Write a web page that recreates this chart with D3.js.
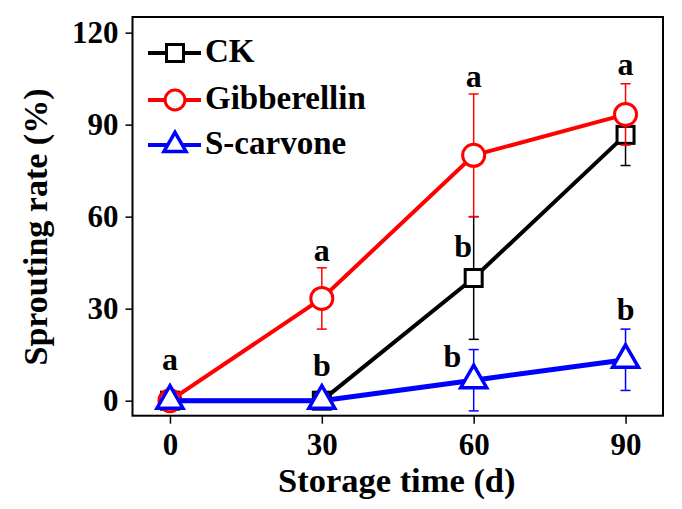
<!DOCTYPE html>
<html>
<head>
<meta charset="utf-8">
<script src="https://cdn.jsdelivr.net/npm/d3@7"></script>
<style>
  html, body { margin: 0; padding: 0; background: #fff; }
  svg text { font-family: "Liberation Serif", "Times New Roman", serif; font-weight: bold; fill: #000; }
</style>
</head>
<body>
<svg id="chart" width="682" height="509"></svg>
<script>
// ---- data ----
const days = [0, 30, 60, 90];
const seriesNames = ["CK", "Gibberellin", "S-carvone"];
const ckMean = [0, 0, 40, 86.67];
const ckErr = [0, 0, 20, 10];
const gaMean = [0, 33.33, 80, 93.33];
const gaErr = [0, 10, 20, 10];
const scMean = [0, 0, 6.67, 13.33];
const scErr = [0, 0, 10, 10];
const xTicks = [0, 30, 60, 90];
const yTicks = [0, 30, 60, 90, 120];
// significance letters: text, x (days), y (value at letter baseline)
const letterText = ["a", "b", "a", "b", "a", "b", "a", "b"];
const letterX = [0, 30, 30, 57.9, 60, 55.8, 90, 90];
const letterY = [10, 8.2, 45.7, 47, 102.2, 11, 106.2, 26.3];

const colors = ["#000000", "#ff0000", "#0000ff"];
const shapes = ["square", "circle", "triangle"];
const means = [ckMean, gaMean, scMean];
const errs = [ckErr, gaErr, scErr];

const W = 682, H = 509;
const margin = { left: 132.5, top: 17, right: 19, bottom: 93.3 };
const svg = d3.select("#chart");

const x = d3.scaleLinear().domain([-7.4, 97.4]).range([margin.left, W - margin.right]);
const y = d3.scaleLinear().domain([-4.9, 125.1]).range([H - margin.bottom, margin.top]);

// frame
svg.append("rect")
  .attr("x", margin.left).attr("y", margin.top)
  .attr("width", W - margin.right - margin.left)
  .attr("height", H - margin.bottom - margin.top)
  .attr("fill", "none").attr("stroke", "#000").attr("stroke-width", 2);

// axes
const xAxis = svg.append("g")
  .attr("transform", `translate(0,${H - margin.bottom})`)
  .call(d3.axisBottom(x).tickValues(xTicks).tickSize(8).tickPadding(9).tickFormat(d3.format("d")));
const yAxis = svg.append("g")
  .attr("transform", `translate(${margin.left},0)`)
  .call(d3.axisLeft(y).tickValues(yTicks).tickSize(7).tickPadding(7).tickFormat(d3.format("d")));
[xAxis, yAxis].forEach(g => {
  g.select(".domain").remove();
  g.selectAll(".tick line").attr("stroke", "#000").attr("stroke-width", 1.5);
  g.selectAll(".tick text").style("font-size", "31px").attr("fill", "#000")
    .style("font-family", "'Liberation Serif', serif").style("font-weight", "bold");
});

// axis titles
svg.append("text")
  .attr("x", (margin.left + W - margin.right) / 2 - 1).attr("y", 492)
  .attr("text-anchor", "middle").style("font-size", "34.5px")
  .text("Storage time (d)");
svg.append("text")
  .attr("transform", `translate(47,${227}) rotate(-90)`)
  .attr("text-anchor", "middle").style("font-size", "34px")
  .text("Sprouting rate (%)");

function marker(g, shape, cx, cy, color, scale) {
  const s = scale || 1;
  if (shape === "square") {
    const h = 8.5 * s;
    g.append("rect").attr("x", cx - h).attr("y", cy - h).attr("width", 2 * h).attr("height", 2 * h)
      .attr("fill", "#fff").attr("stroke", color).attr("stroke-width", 3);
  } else if (shape === "circle") {
    g.append("circle").attr("cx", cx).attr("cy", cy).attr("r", 11 * s)
      .attr("fill", "#fff").attr("stroke", color).attr("stroke-width", 3);
  } else {
    const k = 7.5 * s, r3 = Math.sqrt(3);
    g.append("path")
      .attr("d", `M${cx},${cy - 2 * k}L${cx + r3 * k},${cy + k}L${cx - r3 * k},${cy + k}Z`)
      .attr("fill", "#fff").attr("stroke", color).attr("stroke-width", 3.5).attr("stroke-linejoin", "miter");
  }
}

const line = d3.line().x((d, i) => x(days[i])).y(d => y(d));

means.forEach((m, si) => {
  const g = svg.append("g");
  const col = colors[si];
  // error bars
  m.forEach((v, i) => {
    const e = errs[si][i];
    if (e <= 0) return;
    const cx = x(days[i]);
    g.append("line").attr("x1", cx).attr("x2", cx).attr("y1", y(v - e)).attr("y2", y(v + e))
      .attr("stroke", col).attr("stroke-width", 1.5);
    [v - e, v + e].forEach(t => {
      g.append("line").attr("x1", cx - 5).attr("x2", cx + 5).attr("y1", y(t)).attr("y2", y(t))
        .attr("stroke", col).attr("stroke-width", 1.5);
    });
  });
  g.append("path").datum(m).attr("d", line).attr("fill", "none")
    .attr("stroke", col).attr("stroke-width", si === 2 ? 5 : 4);
  m.forEach((v, i) => marker(g, shapes[si], x(days[i]), y(v), col));
});

// significance letters
letterText.forEach((t, i) => {
  svg.append("text").attr("x", x(letterX[i])).attr("y", y(letterY[i]))
    .attr("text-anchor", "middle").style("font-size", "32px").text(t);
});

// legend
const legY = [53, 100, 145];
seriesNames.forEach((name, i) => {
  const g = svg.append("g");
  g.append("line").attr("x1", 148).attr("x2", 201).attr("y1", legY[i]).attr("y2", legY[i])
    .attr("stroke", colors[i]).attr("stroke-width", 4);
  marker(g, shapes[i], 175, legY[i], colors[i], i === 1 ? 0.9 : (i === 2 ? 0.85 : 1));
  g.append("text").attr("x", 205).attr("y", legY[i] + 9).style("font-size", "33px").text(name);
});
</script>
</body>
</html>
